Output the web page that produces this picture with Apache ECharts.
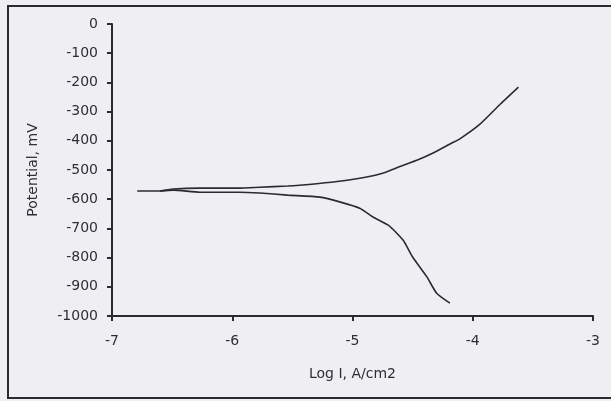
<!DOCTYPE html>
<html>
<head>
<meta charset="utf-8">
<script src="https://cdn.jsdelivr.net/npm/echarts@6/dist/echarts.min.js"></script>
<style>
html,body{margin:0;padding:0;background:#efeff3;}
#c{width:611px;height:401px;}
</style>
</head>
<body>
<div id="c"></div>
<script>
// Log current density (A/cm2) and potential (mV)
var anodicLogI = [-6.79, -6.60, -6.49, -6.27, -5.94, -5.77, -5.54, -5.44, -5.16, -4.94, -4.75, -4.60, -4.46, -4.33, -4.19, -4.11, -3.94, -3.77, -3.62];
var anodicE    = [-572, -572, -565, -562, -562, -559, -555, -552, -541, -528, -511, -487, -466, -442, -411, -394, -343, -274, -216];
var cathodicLogI = [-6.60, -6.49, -6.27, -5.94, -5.77, -5.54, -5.27, -5.10, -4.94, -4.83, -4.70, -4.58, -4.50, -4.38, -4.30, -4.19];
var cathodicE    = [-572, -569, -576, -576, -579, -586, -593, -610, -631, -661, -690, -740, -798, -867, -922, -956];
var xTicks = [-7, -6, -5, -4, -3];
var yTicks = [0, -100, -200, -300, -400, -500, -600, -700, -800, -900, -1000];

function pairs(xs, ys){ return xs.map(function(x,i){ return [x, ys[i]]; }); }

var chart = echarts.init(document.getElementById('c'), null, {renderer:'canvas'});
var ink = '#2b2a33';
var txt = '#2e2e36';
var fontFam = '"DejaVu Sans", Arial, sans-serif';
chart.setOption({
  backgroundColor: '#efeff3',
  animation: false,
  graphic: [{
    type: 'rect',
    shape: {x: 8, y: 6, width: 620, height: 392},
    style: {fill: 'none', stroke: '#2a2a30', lineWidth: 2}
  }],
  grid: {left: 112, top: 24, right: 18, bottom: 85},
  xAxis: {
    type: 'value', min: xTicks[0], max: xTicks[xTicks.length-1], interval: 1,
    name: 'Log I, A/cm2', nameLocation: 'middle', nameGap: 51,
    nameTextStyle: {color: txt, fontSize: 14, fontFamily: fontFam},
    axisLine: {onZero: false, lineStyle: {color: ink, width: 2}},
    axisTick: {show: true, length: 5, lineStyle: {color: ink, width: 2}},
    axisLabel: {color: txt, fontSize: 14, fontFamily: fontFam, margin: 18,
      formatter: function(v){ return String(v); }},
    splitLine: {show: false}
  },
  yAxis: {
    type: 'value', min: yTicks[yTicks.length-1], max: yTicks[0], interval: 100,
    name: 'Potential, mV', nameLocation: 'middle', nameGap: 72, nameRotate: 90,
    nameTextStyle: {color: txt, fontSize: 14, fontFamily: fontFam},
    axisLine: {show: true, onZero: false, lineStyle: {color: ink, width: 2}},
    axisTick: {show: true, length: 5, lineStyle: {color: ink, width: 2}},
    axisLabel: {color: txt, fontSize: 14, fontFamily: fontFam, margin: 14,
      formatter: function(v){ return String(v); }},
    splitLine: {show: false}
  },
  series: [{
    type: 'line', data: pairs(anodicLogI, anodicE), showSymbol: false, symbol: 'none',
    smooth: 0.2, lineStyle: {color: ink, width: 1.6}
  }, {
    type: 'line', data: pairs(cathodicLogI, cathodicE), showSymbol: false, symbol: 'none',
    smooth: 0.2, lineStyle: {color: ink, width: 1.6}
  }]
});
</script>
</body>
</html>
